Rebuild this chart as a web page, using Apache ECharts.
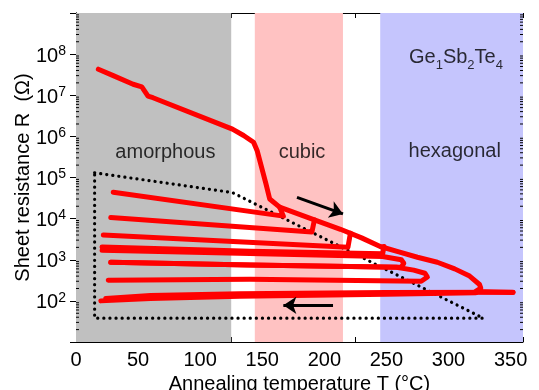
<!DOCTYPE html>
<html>
<head>
<meta charset="utf-8">
<script src="https://cdn.jsdelivr.net/npm/echarts@6/dist/echarts.min.js"></script>
<style>
    html, body { margin: 0; padding: 0; background: #fff; }
    #echarts { width: 539px; height: 390px; }
</style>
</head>
<body>
<div id="echarts"></div>
<script>
    /* 数据：温度 T (°C) 与方块电阻 R (Ω) */
    var heatT = [18, 30, 46, 53, 58, 62, 126, 135, 143, 146, 149, 153, 156, 164, 192, 213, 230, 245, 260, 275, 291, 305, 317, 325, 326, 322, 352];
    var heatR = [4.3e7, 3.0e7, 1.85e7, 1.6e7, 9.5e6, 8.7e6, 1.5e6, 1.05e6, 7.2e5, 4.4e5, 2.0e5, 7.0e4, 3.0e4, 1.9e4, 9.3e3, 5.5e3, 3.4e3, 2.1e3, 1.55e3, 1.15e3, 870, 600, 400, 250, 205, 170, 160];

    var line1T = [164, 167, 30],  line1R = [1.9e4, 1.15e4, 4.4e4];
    var line2T = [192, 190, 28],  line2R = [9.3e3, 4.7e3, 1.07e4];
    var line3T = [221, 219, 22],  line3R = [4.4e3, 2.0e3, 4.0e3];
    var line4T = [248, 247, 140, 21], line4R = [2.1e3, 1.4e3, 1.6e3, 2.05e3];
    var line5T = [21, 140, 247, 262, 264, 262, 140, 28];
    var line5R = [1.7e3, 1.42e3, 1.2e3, 1.0e3, 820, 660, 750, 870];
    var line6T = [28, 140, 258, 272, 281, 283, 278, 140, 26];
    var line6R = [870, 750, 660, 560, 470, 380, 300, 335, 316];
    var bottomHeatT = [20, 60, 132, 250, 322], bottomHeatR = [100, 115, 129, 145, 158];
    var bottomCoolT = [352, 250, 132, 60, 24],  bottomCoolR = [162, 160, 150, 136, 115];

    var boxT = [15, 126, 328, 15, 15];
    var boxR = [1.3e5, 4.3e4, 38, 38, 1.3e5];

    var phases = [['amorphous', 0, 125, '#c0c0c0'], ['cubic', 144, 215, '#ffc2c2'], ['hexagonal', 245, 360, '#c5c5fd']];
    var labelPos = [['amorphous', 72, 4.0e5], ['cubic', 182, 4.0e5], ['hexagonal', 305, 4.4e5], ['Ge1Sb2Te4', 306, 8.5e7]];
    var arrows = [[[178, 3.3e4], [215, 1.3e4]], [[207, 78], [167, 78]]];

    var font = 'Liberation Sans';

    function pts(ts, rs) {
        return ts.map(function (t, i) { return [t, rs[i]]; });
    }

    var minorVals = [];
    for (var e = 1; e < 9; e++) {
        for (var k = 2; k < 10; k++) minorVals.push([k * Math.pow(10, e)]);
    }

    function redLine(ts, rs, w) {
        return {
            type: 'line', z: 3, data: pts(ts, rs), showSymbol: false, silent: true,
            lineStyle: { color: '#ff0000', width: w || 5, cap: 'round', join: 'round' }
        };
    }

    var myChart = echarts.init(document.getElementById('echarts'));

    var axisBlack = { lineStyle: { color: '#000', width: 1 } };
    var option = {
        animation: false,
        grid: { left: 76, right: 16, top: 13, bottom: 48, containLabel: false, outerBoundsMode: 'none' },
        xAxis: [{
            type: 'value', min: 0, max: 360, interval: 25,
            axisLine: axisBlack,
            axisTick: { inside: true, length: 5, lineStyle: { color: '#000' } },
            splitLine: { show: false },
            axisLabel: {
                color: '#000', fontFamily: font, fontSize: 20, margin: 8,
                formatter: function (v) { return (v % 50 === 0 && v <= 350) ? v : ''; }
            },
            name: 'Annealing temperature T (°C)',
            nameLocation: 'middle', nameGap: 32,
            nameTextStyle: { color: '#000', fontFamily: font, fontSize: 20 }
        }, {
            type: 'value', position: 'top', min: 0, max: 360, interval: 25,
            axisLine: axisBlack,
            axisTick: { inside: true, length: 5, lineStyle: { color: '#000' } },
            axisLabel: { show: false }, splitLine: { show: false }
        }],
        yAxis: [{
            type: 'log', logBase: 10, min: 10, max: 1e9, splitNumber: 8,
            axisLine: axisBlack,
            axisTick: { inside: true, length: 6, lineStyle: { color: '#000' } },
            splitLine: { show: false },
            axisLabel: {
                color: '#000', fontFamily: font, margin: 10,
                formatter: function (v) {
                    var p = Math.round(Math.log10(v));
                    if (p < 2 || p > 8) return '';
                    return '{b|10}{e|' + p + '}';
                },
                rich: {
                    b: { fontFamily: font, fontSize: 20, lineHeight: 20, padding: [2, 0, 14, 0], verticalAlign: 'top', color: '#000' },
                    e: { fontFamily: font, fontSize: 14, lineHeight: 14, verticalAlign: 'top', color: '#000' }
                }
            },
            name: 'Sheet resistance R  (Ω)',
            nameLocation: 'middle', nameGap: 43, nameMoveOverlap: false,
            nameTextStyle: { color: '#000', fontFamily: font, fontSize: 20 }
        }, {
            type: 'log', logBase: 10, min: 10, max: 1e9, splitNumber: 8, position: 'right',
            axisLine: axisBlack,
            axisTick: { inside: true, length: 6, lineStyle: { color: '#000' } },
            axisLabel: { show: false }, splitLine: { show: false }
        }],
        series: [
            {
                type: 'line', z: 1, data: [], silent: true,
                markArea: {
                    silent: true,
                    data: phases.map(function (p) {
                        return [{ xAxis: p[1], itemStyle: { color: p[3] } }, { xAxis: p[2] }];
                    })
                }
            },
            {
                type: 'custom', z: 2, data: minorVals, silent: true,
                renderItem: function (params, api) {
                    var a = api.coord([0, api.value(0)]);
                    var b = api.coord([360, api.value(0)]);
                    return {
                        type: 'group', children: [
                            { type: 'line', shape: { x1: a[0], y1: a[1], x2: a[0] + 3, y2: a[1] }, style: { stroke: '#000', lineWidth: 1 } },
                            { type: 'line', shape: { x1: b[0], y1: b[1], x2: b[0] - 3, y2: b[1] }, style: { stroke: '#000', lineWidth: 1 } }
                        ]
                    };
                }
            },
            {
                type: 'line', z: 2, data: pts(boxT, boxR), showSymbol: false, silent: true,
                lineStyle: { color: '#000', width: 3.2, type: [0.1, 6], cap: 'round' }
            },
            redLine(heatT, heatR),
            redLine(line1T, line1R),
            redLine(line2T, line2R),
            redLine(line3T, line3R),
            redLine(line4T, line4R),
            redLine(line5T, line5R),
            redLine(line6T, line6R),
            redLine(bottomHeatT, bottomHeatR),
            redLine(bottomCoolT, bottomCoolR),
            {
                type: 'lines', coordinateSystem: 'cartesian2d', z: 4, silent: true,
                symbol: ['none', 'arrow'], symbolSize: 13,
                lineStyle: { color: '#000', width: 3, opacity: 1 },
                data: arrows.map(function (a) { return { coords: a }; })
            },
            {
                type: 'scatter', z: 5, symbolSize: 0, silent: true,
                data: labelPos.map(function (l) { return { name: l[0], value: [l[1], l[2]] }; }),
                label: {
                    show: true, position: 'inside', color: '#000', fontFamily: font, fontSize: 20,
                    formatter: function (p) {
                        if (p.name === 'Ge1Sb2Te4') return '{a|Ge}{s|1}{a|Sb}{s|2}{a|Te}{s|4}';
                        return p.name;
                    },
                    rich: {
                        a: { fontFamily: font, fontSize: 20, lineHeight: 20, verticalAlign: 'top', color: '#000' },
                        s: { fontFamily: font, fontSize: 13, lineHeight: 13, padding: [12, 0, 0, 0], verticalAlign: 'top', color: '#000' }
                    }
                }
            }
        ]
    };

    myChart.setOption(option);
</script>
</body>
</html>
